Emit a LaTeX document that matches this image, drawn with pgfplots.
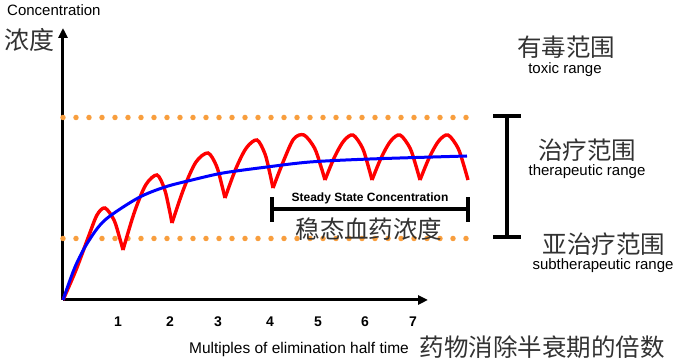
\documentclass[border=0pt]{standalone}
\usepackage{pgfplots}
\pgfplotsset{compat=1.18}
\usetikzlibrary{arrows.meta}
\usepackage{fontspec}
\setmainfont{Liberation Sans}
\newfontfamily\cjk{Noto Sans CJK SC}
\definecolor{dotorange}{RGB}{248,158,62}
\definecolor{cjkgray}{RGB}{50,50,50}
\begin{document}
\begin{tikzpicture}
\begin{axis}[
  x=1pt, y=1pt,
  xmin=0, xmax=365, ymin=0, ymax=272,
  axis lines=left,
  clip=false,
  axis line style={line width=3pt, black},
  x axis line style={-{Triangle[length=10pt,width=9pt]}},
  y axis line style={-{Triangle[length=10pt,width=9pt]}},
  xtick={55,107,155,207,255,302,350},
  xticklabels={1,2,3,4,5,6,7},
  ytick=\empty,
  major tick length=0pt,
  xticklabel style={font=\bfseries\fontsize{14}{16}\selectfont, inner sep=0pt, anchor=north, yshift=-17pt},
]
% orange dotted limits
\addplot[dotorange, line width=5.5pt, line cap=round, dash pattern=on 0pt off 13pt] coordinates {(0,182.5) (405,182.5)};
\addplot[dotorange, line width=5.5pt, line cap=round, dash pattern=on 0pt off 13pt] coordinates {(0,61.5) (405,61.5)};
% red concentration (repeated dosing)
\addplot[red, line width=3.4pt, smooth, tension=0.5] coordinates {(0,0) (13,30) (25,62) (34,85) (42,92) (51,80) (56.4,63) (60,50)};
\addplot[red, line width=3.4pt, smooth, tension=0.5] coordinates {(60,50) (71.3,87.5) (82.7,115) (94,125) (101.5,111) (106,92) (109,77)};
\addplot[red, line width=3.4pt, smooth, tension=0.5] coordinates {(109,77) (121,112) (133,138) (145,147) (153.5,134) (158.6,116) (162,102)};
\addplot[red, line width=3.4pt, smooth, tension=0.5] coordinates {(162,102) (172.7,131) (183.3,152) (194,160) (202,146) (206.8,127) (210,112)};
\addplot[red, line width=3.4pt, smooth, tension=0.5] coordinates {(210,112) (220.3,138.5) (230.7,161) (241,165) (251.5,152) (257.8,134) (262,120)};
\addplot[red, line width=3.4pt, smooth, tension=0.5] coordinates {(262,120) (271.3,142.5) (280.7,159) (290,165) (299.5,152) (305.2,134) (309,120)};
\addplot[red, line width=3.4pt, smooth, tension=0.5] coordinates {(309,120) (318.3,142.5) (327.7,159) (337,165) (347,152) (353,134) (357,120)};
\addplot[red, line width=3.4pt, smooth, tension=0.5] coordinates {(357,120) (366.3,142.5) (375.7,159) (385,165) (395,152) (401,134) (405,120)};
% blue average curve
\addplot[blue, line width=3pt, smooth] coordinates {(0,0) (12,33) (25,58) (42,80) (75,102) (102,113) (129,120) (160,127) (204,133) (247,138) (307,141) (404,144)};
% brackets
\draw[line width=4pt] (axis cs:444,63) -- (axis cs:444,184);
\draw[line width=4pt] (axis cs:430,184) -- (axis cs:458,184);
\draw[line width=4pt] (axis cs:430,63) -- (axis cs:458,63);
\draw[line width=4pt] (axis cs:209,91) -- (axis cs:405,91);
\draw[line width=4pt] (axis cs:209,78) -- (axis cs:209,103);
\draw[line width=4pt] (axis cs:405,78) -- (axis cs:405,103);
% texts
\node[anchor=west, inner sep=0pt, font=\fontsize{15}{18}\selectfont] at (axis cs:-56,290) {Concentration};
\node[inner sep=0pt, text=cjkgray, font=\cjk\fontsize{25}{28}\selectfont] at (axis cs:-33,260) {浓度};
\node[inner sep=0pt, text=cjkgray, font=\cjk\fontsize{24.5}{28}\selectfont] at (axis cs:503,253) {有毒范围};
\node[inner sep=0pt, font=\fontsize{15}{18}\selectfont] at (axis cs:502,230) {toxic range};
\node[inner sep=0pt, text=cjkgray, font=\cjk\fontsize{24.5}{28}\selectfont] at (axis cs:524,150) {治疗范围};
\node[inner sep=0pt, font=\fontsize{15}{18}\selectfont] at (axis cs:524,128) {therapeutic range};
\node[inner sep=0pt, text=cjkgray, font=\cjk\fontsize{24.5}{28}\selectfont] at (axis cs:541,56) {亚治疗范围};
\node[inner sep=0pt, font=\fontsize{15}{18}\selectfont] at (axis cs:540,34) {subtherapeutic range};
\node[inner sep=0pt, font=\bfseries\fontsize{12}{14}\selectfont] at (axis cs:307,102) {Steady State Concentration};
\node[inner sep=0pt, text=cjkgray, font=\cjk\fontsize{24.5}{28}\selectfont] at (axis cs:306,71) {稳态血药浓度};
\node[inner sep=0pt, font=\fontsize{15.5}{18}\selectfont] at (axis cs:236,-49) {Multiples of elimination half time};
\node[inner sep=0pt, text=cjkgray, font=\cjk\fontsize{24.5}{28}\selectfont] at (axis cs:479,-47) {药物消除半衰期的倍数};
\coordinate (BL) at (axis cs:-63,-63);
\coordinate (TR) at (axis cs:618,300);
\end{axis}
\pgfresetboundingbox
\path[use as bounding box] (BL) rectangle (TR);
\end{tikzpicture}
\end{document}
